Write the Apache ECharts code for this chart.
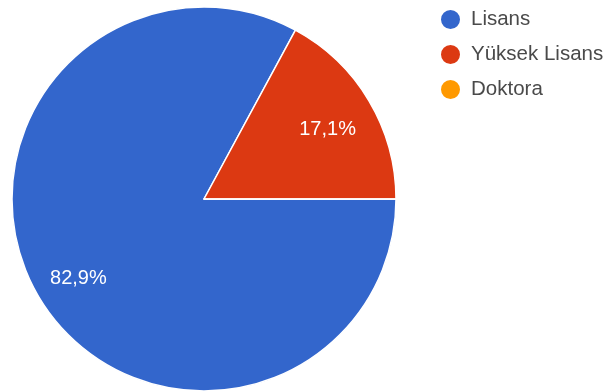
<!DOCTYPE html>
<html>
<head>
<meta charset="utf-8">
<script src="https://cdn.jsdelivr.net/npm/echarts@6/dist/echarts.min.js"></script>
<style>
  html, body { margin: 0; padding: 0; background: #fff; }
  #chart { width: 610px; height: 392px; }
</style>
</head>
<body>
<div id="chart"></div>
<script>
// Education level of respondents (percent of answers)
const categories = ['Lisans', 'Yüksek Lisans', 'Doktora'];
const shares = [82.9, 17.1, 0];
const colors = ['#3366cc', '#dc3912', '#ff9900'];

const data = categories.map((name, i) => ({ name: name, value: shares[i] }));
const fmt = p => p.value > 0 ? p.value.toFixed(1).replace('.', ',') + '%' : '';

const chart = echarts.init(document.getElementById('chart'), null, { renderer: 'canvas' });
chart.setOption({
  animation: false,
  color: colors,
  legend: {
    orient: 'vertical',
    left: 439,
    top: 8,
    padding: 0,
    icon: 'circle',
    itemWidth: 21,
    itemHeight: 21,
    itemGap: 12,
    textStyle: {
      fontFamily: 'Liberation Sans, Arial, sans-serif',
      fontSize: 20.5,
      color: '#4a4a4a',
      padding: [0, 0, 0, 5]
    },
    data: categories
  },
  series: [
    {
      type: 'pie',
      center: [204, 199],
      radius: [0, 192],
      startAngle: 0,
      clockwise: true,
      data: data,
      label: { show: false },
      labelLine: { show: false },
      itemStyle: { borderColor: '#fff', borderWidth: 1.5 },
      emphasis: { disabled: true }
    },
    {
      // transparent ring that carries the percentage labels at ~3/4 radius
      type: 'pie',
      center: [204, 199],
      radius: [92, 192],
      startAngle: 0,
      clockwise: true,
      silent: true,
      legendHoverLink: false,
      data: data,
      itemStyle: { color: 'rgba(0,0,0,0)', borderWidth: 0 },
      label: {
        show: true,
        position: 'inside',
        formatter: fmt,
        color: '#fff',
        fontFamily: 'Liberation Sans, Arial, sans-serif',
        fontSize: 20,
        offset: [-1, 5]
      },
      labelLine: { show: false },
      emphasis: { disabled: true }
    }
  ]
});
</script>
</body>
</html>
